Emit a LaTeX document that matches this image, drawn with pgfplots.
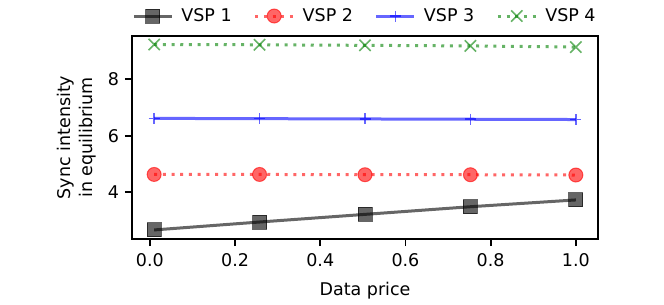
\documentclass[border=0pt]{standalone}
\usepackage{fontspec}
\setmainfont{DejaVu Sans}
\usepackage{pgfplots}
\pgfplotsset{compat=1.18}
\definecolor{mk}{RGB}{0,0,0}
\definecolor{mr}{RGB}{255,0,0}
\definecolor{mb}{RGB}{0,0,255}
\definecolor{mg}{RGB}{0,128,0}
\begin{document}
\fontsize{17.5bp}{21.5bp}\selectfont
\begin{tikzpicture}
\begin{axis}[
  scale only axis, width=466bp, height=203bp,
  xmin=-0.042, xmax=1.052, ymin=2.35, ymax=9.52,
  xtick={0,0.2,0.4,0.6,0.8,1.0}, ytick={4,6,8},
  xticklabels={0.0,0.2,0.4,0.6,0.8,1.0},
  /pgf/number format/assume math mode=true,
  axis line style={line width=1.8bp},
  every tick/.style={line width=1.8bp, black},
  major tick length=7bp, tick align=outside,
  xtick pos=bottom, ytick pos=left,
  xticklabel style={yshift=-1bp},
  xlabel={Data price}, ylabel={Sync intensity\\in equilibrium},
  xlabel style={yshift=-4bp},
  ylabel style={align=center},
  legend columns=4,
  legend style={draw=none, fill=none, at={(0.5,1.0985)}, anchor=center,
    /tikz/every even column/.append style={column sep=20bp},
    /tikz/every odd column/.append style={column sep=6bp}},
  legend image code/.code={\draw[mark repeat=2,mark phase=2] plot coordinates {(0bp,0bp) (19bp,0bp) (38bp,0bp)};},
]
\addplot[draw=mk, line width=3bp, opacity=0.6, mark=square*, mark size=7bp,
  mark options={fill=mk, solid, line width=1bp}]
  coordinates {(0.01,2.67) (0.2575,2.95) (0.505,3.22) (0.7525,3.49) (1.0,3.73)};
\addlegendentry{VSP 1}
\addplot[draw=mr, line width=3bp, opacity=0.6, line cap=butt, dash pattern=on 3bp off 5.7bp, mark=*, mark size=7bp,
  mark options={fill=mr, solid, line width=1bp}]
  coordinates {(0.01,4.63) (0.2575,4.63) (0.505,4.62) (0.7525,4.62) (1.0,4.61)};
\addlegendentry{VSP 2}
\addplot[draw=mb, line width=3bp, opacity=0.6, mark=+, mark size=5.5bp,
  mark options={solid, line width=1.6bp}]
  coordinates {(0.01,6.61) (0.2575,6.60) (0.505,6.59) (0.7525,6.58) (1.0,6.57)};
\addlegendentry{VSP 3}
\addplot[draw=mg, line width=3bp, opacity=0.6, line cap=butt, dash pattern=on 3bp off 5.7bp, mark=x, mark size=8bp,
  mark options={solid, line width=1.6bp}]
  coordinates {(0.01,9.22) (0.2575,9.21) (0.505,9.19) (0.7525,9.17) (1.0,9.13)};
\addlegendentry{VSP 4}
\end{axis}
\path (-132bp,-60bp) rectangle (532bp,239bp);
\end{tikzpicture}
\end{document}
